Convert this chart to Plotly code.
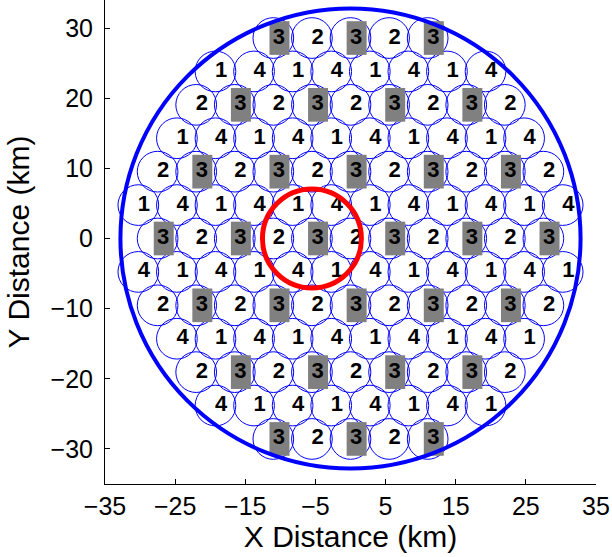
import numpy as np
import plotly.graph_objects as go

# ---------------- data ----------------
cell_spacing_km = 5.5          # distance between neighbouring cell centres
cell_circle_radius_km = 2.9    # radius of each small cell circle
coverage_radius_km = 32.8      # big blue circle
highlight_center = (-5.5, 0.0) # red circle centre (cell "3" left of origin)
highlight_radius_km = 7.05

row_numbers = [6, 5, 4, 3, 2, 1, 0, -1, -2, -3, -4, -5, -6]
row_labels = [
    "32323",
    "14141414",
    "232323232",
    "1414141414",
    "23232323232",
    "141414141414",
    "32323232323",
    "414141414141",
    "23232323232",
    "4141414141",
    "232323232",
    "41414141",
    "32323",
]

x_ticks = [-35, -25, -15, -5, 5, 15, 25, 35]
y_ticks = [-30, -20, -10, 0, 10, 20, 30]

# ---------------- build cells from hex lattice ----------------
d = cell_spacing_km
row_h = d * np.sqrt(3) / 2
cx, cy, lab = [], [], []
for j, labs in zip(row_numbers, row_labels):
    n = len(labs)
    for i, ch in enumerate(labs):
        cx.append((i - (n - 1) / 2) * d)
        cy.append(j * row_h)
        lab.append(ch)

FONT = "Liberation Sans, Arial, Helvetica, sans-serif"
BLUE = "rgb(0,0,255)"
GRAY = "rgb(128,128,128)"

shapes = []
r = cell_circle_radius_km
for x, y in zip(cx, cy):
    shapes.append(dict(type="circle", xref="x", yref="y",
                       x0=x - r, x1=x + r, y0=y - r, y1=y + r,
                       line=dict(color=BLUE, width=1), layer="below"))
for x, y, t in zip(cx, cy, lab):
    if t == "3":
        shapes.append(dict(type="rect", xref="x", yref="y",
                           x0=x - 0.55, x1=x + 2.3, y0=y - 2.4, y1=y + 2.4,
                           fillcolor=GRAY, line=dict(width=0), layer="below"))

R = coverage_radius_km
shapes.append(dict(type="circle", xref="x", yref="y",
                   x0=-R, x1=R, y0=-R, y1=R,
                   line=dict(color=BLUE, width=4), layer="above"))
hx, hy = highlight_center
hr = highlight_radius_km
shapes.append(dict(type="circle", xref="x", yref="y",
                   x0=hx - hr, x1=hx + hr, y0=hy - hr, y1=hy + hr,
                   line=dict(color="rgb(255,0,0)", width=5), layer="above"))

fig = go.Figure()
fig.add_trace(go.Scatter(
    x=[x + 0.8 for x in cx], y=cy, text=lab, mode="text",
    textposition="middle center",
    textfont=dict(family=FONT, size=22, color="black", weight="bold"),
    hoverinfo="skip", showlegend=False))

fig.update_layout(
    width=612, height=557,
    margin=dict(l=105, r=16, t=0, b=73),
    plot_bgcolor="white", paper_bgcolor="white",
    shapes=shapes,
    showlegend=False,
    font=dict(family=FONT, color="black"),
)
fig.update_xaxes(
    range=[-35, 35], tickvals=x_ticks, ticks="inside", ticklen=5,
    tickcolor="black", showline=True, linecolor="black", linewidth=1,
    showgrid=False, zeroline=False, mirror=False,
    tickfont=dict(size=25, family=FONT), ticklabelstandoff=0,
    title=dict(text="X Distance (km)", font=dict(size=30, family=FONT), standoff=0),
)
fig.update_yaxes(
    range=[-35, 34.0], tickvals=y_ticks, ticks="inside", ticklen=5,
    tickcolor="black", showline=True, linecolor="black", linewidth=1,
    showgrid=False, zeroline=False, mirror=False,
    tickfont=dict(size=25, family=FONT), ticklabelstandoff=6,
    title=dict(text="Y Distance (km)", font=dict(size=30, family=FONT), standoff=12),
)

fig.write_html("out.html", config={"displayModeBar": False},
               post_script="document.body.style.margin='0';")
